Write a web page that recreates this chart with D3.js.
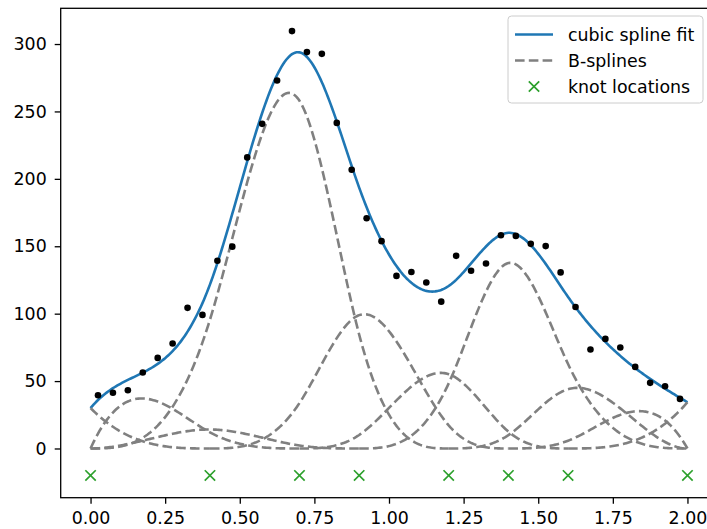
<!DOCTYPE html>
<html>
<head>
<meta charset="utf-8">
<script src="https://cdn.jsdelivr.net/npm/d3@7.9.0/dist/d3.min.js"></script>
<style>
  body { margin: 0; background: #fff; }
  svg { display: block; overflow: hidden; }
  text { font-family: "DejaVu Sans", sans-serif; }
</style>
</head>
<body>
<svg id="chart" width="707" height="529"></svg>
<script>
// knot locations (interior + boundary), shown as green x marks at y = -20
const knots = [0, 0.4, 0.7, 0.9, 1.2, 1.4, 1.6, 2.0];
const knotMarkY = -20;

// peak height of each scaled cubic B-spline
const basisPeaks = [30.0, 37.1, 14.1, 263.8, 99.6, 56.1, 137.7, 45.0, 27.7, 34.3];

// observed data points
const pointX = [0.025, 0.075, 0.125, 0.175, 0.225, 0.275, 0.325, 0.375, 0.425, 0.475,
  0.525, 0.575, 0.625, 0.675, 0.725, 0.775, 0.825, 0.875, 0.925, 0.975,
  1.025, 1.075, 1.125, 1.175, 1.225, 1.275, 1.325, 1.375, 1.425, 1.475,
  1.525, 1.575, 1.625, 1.675, 1.725, 1.775, 1.825, 1.875, 1.925, 1.975];
const pointY = [39.5, 41.3, 43.2, 56.4, 67.2, 77.9, 104.3, 99.1, 139.2, 149.7,
  215.9, 240.8, 273.0, 309.6, 294.0, 292.7, 241.5, 206.7, 170.8, 153.8,
  128.0, 130.9, 123.1, 108.9, 142.9, 131.8, 137.2, 158.2, 157.7, 151.8,
  150.1, 130.6, 105.0, 73.4, 81.3, 74.9, 60.5, 48.7, 46.2, 36.8];

const xTicks = [0, 0.25, 0.5, 0.75, 1.0, 1.25, 1.5, 1.75, 2.0];
const yTicks = [0, 50, 100, 150, 200, 250, 300];

const legendLabels = ["cubic spline fit", "B-splines", "knot locations"];

const fontSize = 17.4;
const blue = "#1f77b4";
const gray = "#808080";
const green = "#2ca02c";

const svg = d3.select("#chart");

const x = d3.scaleLinear().domain([-0.1, 2.1]).range([60.7, 717.3]);
const y = d3.scaleLinear().domain([-36.5, 326.5]).range([497.7, 8.3]);

// clamped cubic knot vector
const degree = 3;
const first = knots[0], last = knots[knots.length - 1];
const t = [first, first, first, ...knots, last, last, last];
const nBasis = t.length - degree - 1;

function bspline(i, k, xv) {
  if (k === 0) {
    let xe = Math.min(xv, last - 1e-9);
    return t[i] <= xe && xe < t[i + 1] ? 1 : 0;
  }
  let a = 0, b = 0;
  if (t[i + k] > t[i]) a = (xv - t[i]) / (t[i + k] - t[i]) * bspline(i, k - 1, xv);
  if (t[i + k + 1] > t[i + 1]) b = (t[i + k + 1] - xv) / (t[i + k + 1] - t[i + 1]) * bspline(i + 1, k - 1, xv);
  return a + b;
}

const grid = d3.range(0, 401).map((j) => first + j * (last - first) / 400);
const rawBasis = d3.range(nBasis).map((i) => grid.map((g) => bspline(i, degree, g)));
const coefs = rawBasis.map((vals, i) => basisPeaks[i] / d3.max(vals));
// each basis function is only drawn over its own support
const scaledBasis = rawBasis.map((vals, i) =>
  vals.map((v, j) => [grid[j], v * coefs[i]])
    .filter((d) => d[0] >= t[i] - 1e-9 && d[0] <= t[i + degree + 1] + 1e-9));
const fit = grid.map((g, j) => [g, d3.sum(rawBasis, (vals, i) => vals[j] * coefs[i])]);

const line = d3.line().x((d) => x(d[0])).y((d) => y(d[1]));

// axes
const xAxis = svg.append("g")
  .attr("transform", `translate(0,${y.range()[0]})`)
  .call(d3.axisBottom(x).tickValues(xTicks).tickFormat(d3.format(".2f")).tickSize(6).tickPadding(8).tickSizeOuter(0));
const yAxis = svg.append("g")
  .attr("transform", `translate(${x.range()[0]},0)`)
  .call(d3.axisLeft(y).tickValues(yTicks).tickFormat(d3.format("d")).tickSize(6).tickPadding(8).tickSizeOuter(0));

[xAxis, yAxis].forEach((g) => {
  g.select(".domain").remove();
  g.selectAll(".tick line").attr("stroke", "#000").attr("stroke-width", 1.3);
  g.selectAll(".tick text").attr("fill", "#000").style("font-size", fontSize + "px").style("font-family", "DejaVu Sans");
});

const plot = svg.append("g");

plot.append("path")
  .datum(fit)
  .attr("d", line)
  .attr("fill", "none")
  .attr("stroke", blue)
  .attr("stroke-width", 2.6);

plot.selectAll("path.basis")
  .data(scaledBasis)
  .join("path")
  .attr("class", "basis")
  .attr("d", line)
  .attr("fill", "none")
  .attr("stroke", gray)
  .attr("stroke-width", 2.6)
  .attr("stroke-dasharray", "9.6,4.2");

plot.selectAll("circle.pt")
  .data(pointX.map((px, i) => [px, pointY[i]]))
  .join("circle")
  .attr("class", "pt")
  .attr("cx", (d) => x(d[0]))
  .attr("cy", (d) => y(d[1]))
  .attr("r", 3.3)
  .attr("fill", "#000");

const xMark = (cx, cy, s) => `M${cx - s},${cy - s}L${cx + s},${cy + s}M${cx - s},${cy + s}L${cx + s},${cy - s}`;

plot.selectAll("path.knot")
  .data(knots)
  .join("path")
  .attr("class", "knot")
  .attr("d", (d) => xMark(x(d), y(knotMarkY), 5.2))
  .attr("stroke", green)
  .attr("stroke-width", 1.7)
  .attr("fill", "none");

// frame
svg.append("rect")
  .attr("x", x.range()[0])
  .attr("y", y.range()[1])
  .attr("width", x.range()[1] - x.range()[0])
  .attr("height", y.range()[0] - y.range()[1])
  .attr("fill", "none")
  .attr("stroke", "#000")
  .attr("stroke-width", 1.3);

// legend
const legend = svg.append("g").attr("transform", "translate(508,16)");
legend.append("rect")
  .attr("width", 195)
  .attr("height", 87)
  .attr("rx", 3.5)
  .attr("fill", "#fff")
  .attr("fill-opacity", 0.8)
  .attr("stroke", "#cccccc")
  .attr("stroke-width", 1);

const rows = legend.selectAll("g.row")
  .data(legendLabels)
  .join("g")
  .attr("class", "row")
  .attr("transform", (_, i) => `translate(0,${18.5 + i * 26})`);

rows.each(function (d, i) {
  const row = d3.select(this);
  if (i === 0) {
    row.append("line").attr("x1", 7).attr("x2", 45).attr("stroke", blue).attr("stroke-width", 2.6);
  } else if (i === 1) {
    row.append("line").attr("x1", 7).attr("x2", 45).attr("stroke", gray).attr("stroke-width", 2.6)
      .attr("stroke-dasharray", "9.6,4.2");
  } else {
    row.append("path").attr("d", xMark(26, 0, 5.2)).attr("stroke", green).attr("stroke-width", 1.7);
  }
  row.append("text")
    .attr("x", 60)
    .attr("y", 6.3)
    .style("font-size", fontSize + "px")
    .attr("fill", "#000")
    .text(d);
});
</script>
</body>
</html>
